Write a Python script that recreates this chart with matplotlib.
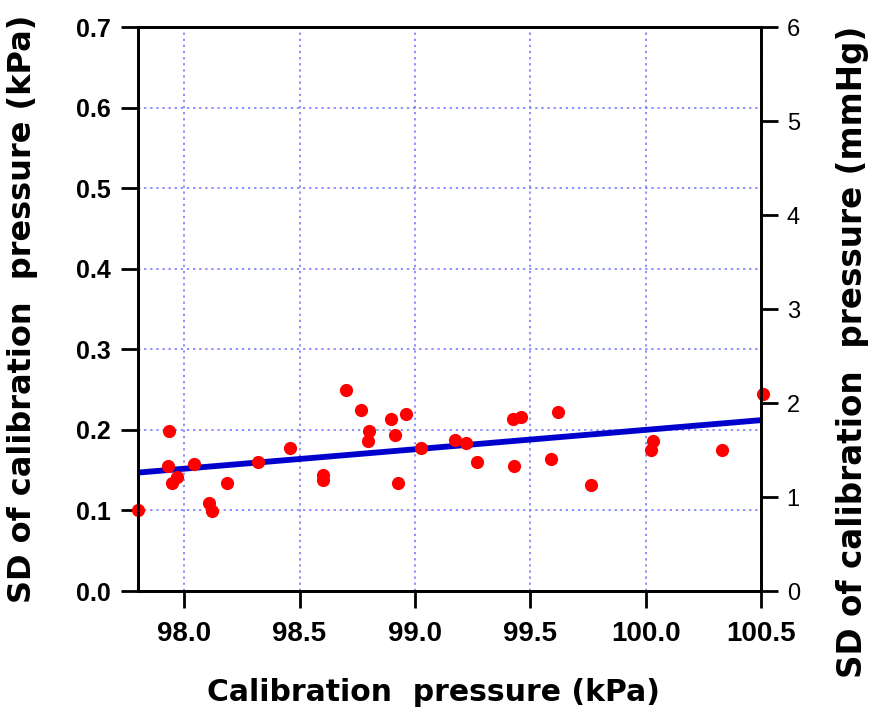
import matplotlib
matplotlib.use("Agg")
import matplotlib.pyplot as plt
import numpy as np

# calibration pressure (kPa) and the SD measured at each calibration
cal_kpa = [97.80, 97.935, 97.929, 97.946, 97.968, 98.044, 98.108, 98.12,
           98.185, 98.32, 98.46, 98.60, 98.60, 98.70, 98.767, 98.80,
           98.797, 98.897, 98.963, 98.915, 98.927, 99.027, 99.173, 99.22,
           99.27, 99.425, 99.458, 99.43, 99.59, 99.62, 99.765, 100.034,
           100.025, 100.329, 100.51]
sd_kpa = [0.101, 0.198, 0.155, 0.134, 0.142, 0.158, 0.109, 0.099,
          0.134, 0.160, 0.177, 0.144, 0.138, 0.250, 0.225, 0.198,
          0.186, 0.213, 0.220, 0.194, 0.134, 0.178, 0.187, 0.184,
          0.160, 0.214, 0.216, 0.155, 0.164, 0.222, 0.131, 0.186,
          0.175, 0.175, 0.244]

# linear trend of SD against pressure
fit_slope = 0.0241
fit_intercept = -2.210

x_ticks = [98.0, 98.5, 99.0, 99.5, 100.0, 100.5]
y_ticks_kpa = [0.0, 0.1, 0.2, 0.3, 0.4, 0.5, 0.6, 0.7]
y_ticks_mmhg = [0, 1, 2, 3, 4, 5, 6]

plt.rcParams["font.family"] = ["Liberation Sans", "DejaVu Sans"]
label_font = dict(family=["DejaVu Sans"], fontweight="bold")

fig = plt.figure(figsize=(8.72, 7.13), dpi=100)
ax = fig.add_axes([0.1583, 0.1711, 0.7144, 0.791])

ax.set_xlim(97.8, 100.5)
ax.set_ylim(0, 0.7)
ax.set_xticks(x_ticks)
ax.set_xticklabels([f"{v:.1f}" for v in x_ticks], fontsize=20, fontweight="bold")
ax.set_yticks(y_ticks_kpa)
ax.set_yticklabels([f"{v:.1f}" for v in y_ticks_kpa], fontsize=18, fontweight="bold")

ax.grid(True, color="#7070ff", linestyle=(0, (1.5, 2.5)), linewidth=1.1)
ax.set_axisbelow(True)

for side in ["left", "bottom", "top", "right"]:
    ax.spines[side].set_linewidth(2.0)
ax.tick_params(axis="both", direction="out", length=12.5, width=2.0, colors="black")
ax.tick_params(axis="x", pad=9)
ax.tick_params(axis="y", pad=7)

fx = np.array([97.8, 100.5])
ax.plot(fx, fit_intercept + fit_slope * fx, color="#0000cc", linewidth=4.2,
        solid_capstyle="butt", zorder=3)
ax.plot(cal_kpa, sd_kpa, linestyle="none", marker="o", markersize=9.5,
        color="#ff0000", markeredgewidth=0, clip_on=False, zorder=4)

ax.set_xlabel("Calibration  pressure (kPa)", fontsize=21.5, **label_font)
ax.xaxis.set_label_coords(0.474, -0.155)
ax.set_ylabel("SD of calibration  pressure (kPa)", fontsize=23, **label_font)
ax.yaxis.set_label_coords(-0.16, 0.5)

# right-hand scale in mmHg
ax2 = ax.twinx()
ax2.set_ylim(0, 6)
ax2.set_yticks(y_ticks_mmhg)
ax2.set_yticklabels([str(v) for v in y_ticks_mmhg], fontsize=17)
ax2.tick_params(axis="y", direction="out", length=12.5, width=2.0, pad=6)
for side in ["left", "bottom", "top", "right"]:
    ax2.spines[side].set_linewidth(2.0)
ax2.set_ylabel("SD of calibration  pressure (mmHg)", fontsize=23.5,
               rotation=90, **label_font)
ax2.yaxis.set_label_coords(1.12, 0.424)

fig.savefig("out.png", dpi=100)
